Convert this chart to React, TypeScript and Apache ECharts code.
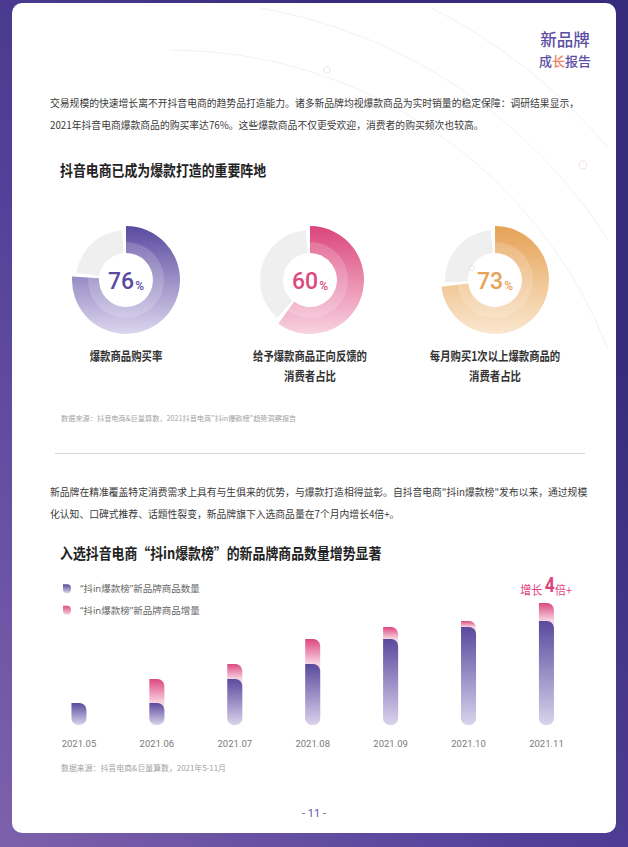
import React, { useEffect, useRef } from 'react';
import * as echarts from 'echarts';

// ---------- data ----------
const donutValues = [76, 60, 73];
const donutLabels = [
  ['爆款商品购买率'],
  ['给予爆款商品正向反馈的', '消费者占比'],
  ['每月购买1次以上爆款商品的', '消费者占比'],
];
const months = ['2021.05', '2021.06', '2021.07', '2021.08', '2021.09', '2021.10', '2021.11'];
const productCount = [22, 22, 46, 61, 86, 98, 104];
const productIncrease = [0, 24, 15, 25, 12, 6, 18];
const legendNames = ['“抖in爆款榜”新品牌商品数量', '“抖in爆款榜”新品牌商品增量'];

const para1 = [
  '交易规模的快速增长离不开抖音电商的趋势品打造能力。诸多新品牌均视爆款商品为实时销量的稳定保障：调研结果显示，',
  '2021年抖音电商爆款商品的购买率达76%。这些爆款商品不仅更受欢迎，消费者的购买频次也较高。',
];
const para2 = [
  '新品牌在精准覆盖特定消费需求上具有与生俱来的优势，与爆款打造相得益彰。自抖音电商"抖in爆款榜"发布以来，通过规模',
  '化认知、口碑式推荐、话题性裂变，新品牌旗下入选商品量在7个月内增长4倍+。',
];
const title1 = '抖音电商已成为爆款打造的重要阵地';
const title2 = '入选抖音电商“抖in爆款榜”的新品牌商品数量增势显著';
const source1 = '数据来源：抖音电商&巨量算数，2021抖音电商"抖in爆款榜"趋势洞察报告';
const source2 = '数据来源：抖音电商&巨量算数，2021年5-11月';

// ---------- styles / layout ----------
const CJK = '"Noto Sans CJK SC", "Noto Sans", sans-serif';
const LATIN_FIRST = '"Noto Sans", "Noto Sans CJK SC", sans-serif';
const donutCx = [126, 310, 495];
const donutCy = 280;
const donutGrad = [
  ['#5a4a9f', '#dcd6ee'],
  ['#db457b', '#f8d2e0'],
  ['#e6a256', '#fae7cf'],
];
const donutTextColor = ['#5b4ba0', '#dc4a7f', '#e6a257'];
const T = 'rgba(0,0,0,0)';

const vGrad = (stops: [number, string][]) =>
  new echarts.graphic.LinearGradient(
    0, 0, 0, 1,
    stops.map(([offset, color]) => ({ offset, color }))
  );

function txt(text: string, x: number, y: number, o: any = {}) {
  const align = o.align || 'left';
  return {
    type: 'text',
    x,
    y,
    z: 20,
    silent: true,
    scaleX: o.scaleX ?? 1,
    style: {
      text,
      fill: o.fill || '#333',
      fontSize: o.fontSize || 10,
      fontFamily: o.fontFamily || CJK,
      fontWeight: o.fontWeight || 'normal',
      align,
      textAlign: align,
      verticalAlign: 'middle',
      textVerticalAlign: 'middle',
      rich: o.rich,
    },
  };
}

// decorative faint arcs kept inside the white card
function decoArc(r: number) {
  const cx = 170;
  const cy = 520;
  const topLimit = Math.min(1, (cy - 8) / r);
  const start = -Math.asin(topLimit);
  const end = -Math.acos(Math.min(1, (608 - cx) / r));
  return {
    type: 'arc',
    z: -80,
    silent: true,
    shape: { cx, cy, r, startAngle: start, endAngle: end, clockwise: true },
    style: { stroke: '#f2f2f5', lineWidth: 1, fill: 'none' },
  };
}

function buildOption() {
  const series: any[] = [];
  donutValues.forEach((v, i) => {
    const center = [donutCx[i], donutCy];
    const gap = 1.3;
    const common = {
      type: 'pie',
      center,
      silent: true,
      startAngle: 90,
      clockwise: true,
      label: { show: false },
      labelLine: { show: false },
      emphasis: { disabled: true },
      animation: false,
    };
    series.push({
      ...common,
      radius: [27, 50],
      data: [
        { value: v + gap, itemStyle: { color: T } },
        { value: 100 - v - 2 * gap, itemStyle: { color: '#efefef' } },
        { value: gap, itemStyle: { color: T } },
      ],
    });
    series.push({
      ...common,
      radius: [27, 54],
      data: [
        { value: v, itemStyle: { color: vGrad([[0, donutGrad[i][0]], [1, donutGrad[i][1]]]) } },
        { value: 100 - v, itemStyle: { color: T } },
      ],
    });
    series.push({
      ...common,
      radius: [27, 38],
      data: [
        { value: v, itemStyle: { color: 'rgba(255,255,255,0.17)' } },
        { value: 100 - v, itemStyle: { color: T } },
      ],
    });
  });

  const purple = vGrad([[0, '#5a4a9e'], [1, '#d9d3ec']]);
  const pinkLegend = vGrad([[0, '#dd4a80'], [1, '#f7d3e1']]);

  series.push({
    type: 'bar',
    name: legendNames[1],
    barWidth: 15,
    barGap: '-100%',
    silent: true,
    z: 2,
    itemStyle: { color: pinkLegend, borderRadius: [0, 7, 7, 7] },
    data: productCount.map((c, i) => {
      const inc = productIncrease[i];
      if (!inc) return '-';
      const total = c + inc;
      const f = inc / total;
      return {
        value: total,
        itemStyle: {
          color: vGrad([[0, '#dc4880'], [f, '#f8d6e3'], [1, '#f8d6e3']]),
        },
      };
    }),
  });
  series.push({
    type: 'bar',
    name: legendNames[0],
    barWidth: 15,
    barGap: '-100%',
    silent: true,
    z: 3,
    itemStyle: { color: purple, borderRadius: [0, 7, 7, 7] },
    data: productCount,
  });

  const icon = 'path://M0,0 L4,0 A4,4 0 0 1 8,4 L8,5 A4,4 0 0 1 0,5 Z';

  const graphics: any[] = [
    {
      type: 'rect',
      z: -100,
      silent: true,
      shape: { x: 0, y: 0, width: 628, height: 847 },
      style: {
        fill: new echarts.graphic.LinearGradient(0, 1, 0.75, 0.2, [
          { offset: 0, color: '#7e61ac' },
          { offset: 0.5, color: '#54429a' },
          { offset: 1, color: '#372c7b' },
        ]),
      },
    },
    {
      type: 'rect',
      z: -90,
      silent: true,
      shape: { x: 12, y: 3, width: 604, height: 830, r: 10 },
      style: { fill: '#ffffff' },
    },
    ...[470, 520, 575].map(decoArc),
    { type: 'circle', z: -70, silent: true, shape: { cx: 327, cy: 70, r: 3.2 }, style: { fill: 'none', stroke: '#dddddd', lineWidth: 0.8 } },
    { type: 'circle', z: -70, silent: true, shape: { cx: 583, cy: 165, r: 4 }, style: { fill: 'none', stroke: '#f3d6e1', lineWidth: 0.8 } },
    { type: 'circle', z: 25, silent: true, shape: { cx: 472, cy: 268, r: 2.5 }, style: { fill: 'none', stroke: '#dddddd', lineWidth: 0.8 } },
    // logo
    txt('新品牌', 565, 38.5, { fontSize: 16.5, fontWeight: 500, fill: '#5b4ea3', align: 'center' }),
    txt('{a|成}{b|长}{a|报告}', 565, 60, {
      align: 'center',
      fontSize: 13,
      rich: {
        a: { fontSize: 13, fontWeight: 500, fill: '#5b4ea3', fontFamily: CJK },
        b: { fontSize: 13, fontWeight: 500, fill: '#ee7f62', fontFamily: CJK },
      },
    }),
    // paragraph 1
    ...para1.map((l, k) => txt(l, 50, 103 + k * 22, { fontSize: 9.8, fill: '#3a3a3a' })),
    txt(title1, 60, 170, { fontSize: 15, fontWeight: 'bold', fill: '#222', scaleX: 0.86 }),
    // donut center texts
    ...donutValues.map((v, i) =>
      txt(`{a|${v}}{b|%}`, donutCx[i], donutCy, {
        align: 'center',
        fontSize: 23,
        rich: {
          a: { fontSize: 23, fontFamily: 'Roboto', fontWeight: 500, fill: donutTextColor[i], lineHeight: 26, verticalAlign: 'bottom' },
          b: { fontSize: 12, fontFamily: 'Roboto', fontWeight: 500, fill: donutTextColor[i], lineHeight: 26, verticalAlign: 'bottom', padding: [0, 0, 1, 1] },
        },
      })
    ),
    // donut labels
    ...donutLabels.flatMap((lines, i) =>
      lines.map((l, k) =>
        txt(l, donutCx[i], 356 + k * 19.5, { align: 'center', fontSize: 12.5, fontWeight: 'bold', fill: '#333', scaleX: 0.83 })
      )
    ),
    txt(source1, 61, 418, { fontSize: 7.2, fill: '#a3a3a3' }),
    {
      type: 'line',
      z: 5,
      silent: true,
      shape: { x1: 55, y1: 453.5, x2: 585, y2: 453.5 },
      style: { stroke: '#d6d6d6', lineWidth: 1 },
    },
    ...para2.map((l, k) => txt(l, 50, 492 + k * 21.5, { fontSize: 9.8, fill: '#3a3a3a' })),
    txt(title2, 60, 553, { fontSize: 15, fontWeight: 'bold', fill: '#222', scaleX: 0.86 }),
    txt('{a|增长 }{b|4}{a|倍+}', 572, 585, {
      align: 'right',
      scaleX: 0.88,
      fontSize: 13,
      rich: {
        a: { fontSize: 12.5, fill: '#e0437c', fontFamily: CJK, lineHeight: 22, verticalAlign: 'bottom', padding: [0, 0, 1, 0] },
        b: { fontSize: 20, fontWeight: 'bold', fill: '#e0437c', fontFamily: 'Roboto', lineHeight: 22, verticalAlign: 'bottom' },
      },
    }),
    txt(source2, 61, 767, { fontSize: 7.9, fill: '#a3a3a3' }),
    txt('- 11 -', 314, 813, { align: 'center', fontSize: 11, fill: '#6656a8', fontFamily: 'Roboto' }),
  ];

  return {
    animation: false,
    grid: { left: 40, right: 42.6, top: 595, bottom: 122, containLabel: false },
    legend: {
      orient: 'vertical',
      left: 63,
      top: 584,
      padding: 0,
      itemWidth: 8,
      itemHeight: 9,
      itemGap: 12,
      selectedMode: false,
      data: [
        { name: legendNames[0], icon },
        { name: legendNames[1], icon },
      ],
      textStyle: { fontSize: 9.5, color: '#666', fontFamily: LATIN_FIRST, padding: [0, 0, 0, 4] },
    },
    xAxis: {
      type: 'category',
      data: months,
      axisLine: { show: false },
      axisTick: { show: false },
      axisLabel: { color: '#7a7a7a', fontSize: 9.5, margin: 13, fontFamily: 'Roboto' },
    },
    yAxis: { type: 'value', min: 0, max: 130, show: false, splitLine: { show: false } },
    series,
    graphic: { elements: graphics },
  };
}

export default function App() {
  const ref = useRef<HTMLDivElement>(null);
  useEffect(() => {
    document.body.style.margin = '0';
    const chart = echarts.init(ref.current!, null, { renderer: 'svg', width: 628, height: 847 });
    chart.setOption(buildOption() as any);
    return () => chart.dispose();
  }, []);
  return <div ref={ref} style={{ width: 628, height: 847 }} />;
}
